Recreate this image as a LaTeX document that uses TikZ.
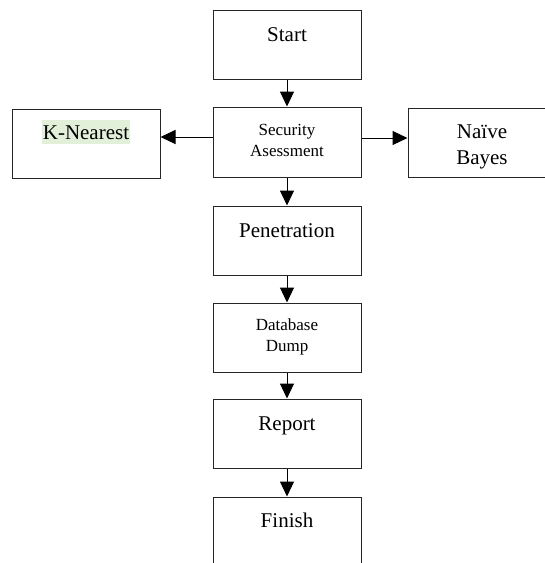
\documentclass[tikz,border=0pt]{standalone}
\usepackage{fontspec}
\setmainfont{Liberation Serif}
\usetikzlibrary{arrows.meta}
\definecolor{hlgreen}{HTML}{E2EFD9}

\begin{document}
\begin{tikzpicture}[x=1pt, y=-1pt, >={Triangle[length=15pt, width=14pt]},
		box/.style={draw=black!85, line width=1pt, minimum width=148pt, minimum height=69pt, inner sep=0pt},
		big/.style={font=\fontsize{21}{26}\selectfont, anchor=base, align=center, inner sep=0pt},
		small/.style={font=\fontsize{17}{21}\selectfont, anchor=base, align=center, inner sep=0pt},
		link/.style={->, line width=1pt}]
	\useasboundingbox (0,0) rectangle (545,563);
	\clip (0,0) rectangle (545,563);
	\fill[white] (0,0) rectangle (545,563);
	% boxes
	\node[box] (start) at (287,44.5) {};
	\node[box, minimum height=70pt] (sec) at (287,142) {};
	\node[box] (kn) at (86,143.5) {};
	\node[box] (nb) at (482,142.5) {};
	\node[box] (pen) at (287,240.5) {};
	\node[box] (db) at (287,337.5) {};
	\node[box] (rep) at (287,433.5) {};
	\node[box] (fin) at (287,531.5) {};
	% texts (base of two-line texts = last line)
	\node[big] (startlbl) at (287,41) {Start};
	\node[small] (seclbl) at (287,156) {Security\\Asessment};
	\node[big, fill=hlgreen, inner xsep=1pt, text height=19pt, text depth=4.5pt] (knlbl) at (86,139) {K-Nearest};
	\node[big] (nblbl) at (482,164) {Naïve\\Bayes};
	\node[big] (penlbl) at (287,237) {Penetration};
	\node[small] (dblbl) at (287,351) {Database\\Dump};
	\node[big] (replbl) at (287,430) {Report};
	\node[big] (finlbl) at (287,527) {Finish};
	% arrows
	\draw[link] (start.south) -- (sec.north);
	\draw[link] ([yshift=5pt]sec.west) -- ([yshift=6.5pt]kn.east);
	\draw[link] ([yshift=4pt]sec.east) -- ([yshift=4.5pt]nb.west);
	\draw[link] (sec.south) -- (pen.north);
	\draw[link] (pen.south) -- (db.north);
	\draw[link] (db.south) -- (rep.north);
	\draw[link] (rep.south) -- (fin.north);
\end{tikzpicture}
\end{document}
